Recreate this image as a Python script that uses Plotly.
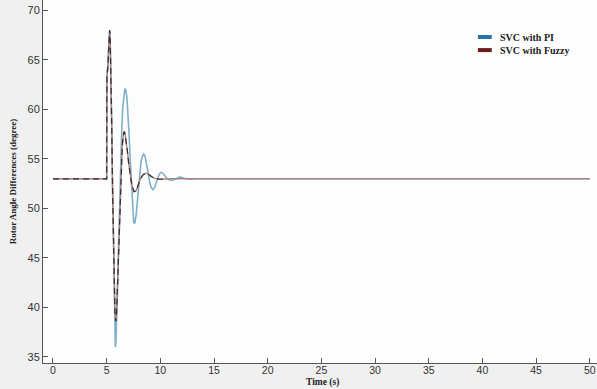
import plotly.graph_objects as go

# Time samples (s) and rotor angle differences (degree)
t_pi = [0, 5.0, 5.02, 5.12, 5.2, 5.28, 5.33, 5.4, 5.47, 5.55, 5.63, 5.7, 5.76, 5.81, 5.86, 5.93,
        6.0, 6.1, 6.2, 6.3, 6.4, 6.5, 6.6, 6.68, 6.74, 6.8, 6.9, 7.0, 7.1, 7.2, 7.3, 7.4, 7.52,
        7.62, 7.75, 7.9, 8.05, 8.2, 8.33, 8.45, 8.57, 8.7, 8.85, 9.0, 9.15, 9.32, 9.5, 9.7,
        9.9, 10.05, 10.2, 10.35, 10.55, 10.8, 11.1, 11.4, 11.8, 12.2, 12.8, 13.5, 50]
pi_vals = [53, 53, 63.2, 64.5, 66.5, 68, 67, 63.5, 58.5, 52, 45.5, 40.5, 37.5, 36.0, 36.4, 38.5,
           41.5, 46, 50.5, 54.5, 57.8, 60.2, 61.6, 62.0, 62.1, 61.9, 61, 59.4, 57.2, 54.8, 52.4, 50.3, 48.6,
           48.5, 49.4, 51.2, 53.2, 54.7, 55.3, 55.5, 55.3, 54.7, 53.7, 52.7, 52.1, 51.9, 52.2, 52.9,
           53.45, 53.65, 53.6, 53.4, 53.1, 52.9, 52.85, 52.95, 53.2, 53.05, 52.95, 53.0, 53.0]

t_fz = [0, 5.0, 5.02, 5.12, 5.2, 5.28, 5.33, 5.4, 5.47, 5.55, 5.63, 5.7, 5.77, 5.84, 5.9, 5.97,
        6.05, 6.15, 6.25, 6.35, 6.45, 6.55, 6.62, 6.7, 6.8, 6.92, 7.05, 7.2, 7.35, 7.55, 7.75,
        7.95, 8.15, 8.35, 8.55, 8.7, 8.9, 9.2, 9.6, 10.0, 10.5, 11.0, 12.0, 50]
fz_vals = [53, 53, 63.2, 64.5, 66.5, 68, 67, 63.5, 58.5, 52, 46, 42, 39.5, 38.6, 39.0, 40.8,
           43.5, 47.5, 51.3, 54.3, 56.3, 57.4, 57.76, 57.6, 57.0, 55.9, 54.6, 53.3, 52.3, 51.7, 51.8,
           52.4, 53.0, 53.35, 53.52, 53.55, 53.45, 53.2, 53.0, 52.95, 53.0, 53.0, 53.0, 53.0]

series_names = ["SVC with PI", "SVC with Fuzzy"]
legend_colors = ["#2a73a8", "#6e1c1c"]
x_ticks = [0, 5, 10, 15, 20, 25, 30, 35, 40, 45, 50]
y_ticks = [35, 40, 45, 50, 55, 60, 65, 70]

fig = go.Figure()
fig.add_trace(go.Scatter(x=t_pi, y=pi_vals, mode="lines", name=series_names[0], showlegend=False,
                         line=dict(color="#7fb0c8", width=1.6)))
fig.add_trace(go.Scatter(x=t_fz, y=fz_vals, mode="lines", name=series_names[1], showlegend=False,
                         line=dict(color="#a88580", width=1.4)))
fig.add_trace(go.Scatter(x=t_fz[:-3], y=fz_vals[:-3], mode="lines", showlegend=False, hoverinfo="skip",
                         line=dict(color="#3a2c2c", width=1.2, dash="6px,4px")))

# manual legend (compact, like the reference)
leg_y = [0.898, 0.862]
for name, col, yy in zip(series_names, legend_colors, leg_y):
    fig.add_shape(type="line", xref="paper", yref="paper", x0=0.785, x1=0.81, y0=yy, y1=yy,
                  line=dict(color=col, width=4))
    fig.add_annotation(x=0.822, y=yy, xref="paper", yref="paper", text="<b>%s</b>" % name,
                       showarrow=False, xanchor="left", yanchor="middle",
                       font=dict(family="Liberation Serif", size=10, color="#222"))

# x-axis title placed below the tick labels
fig.add_annotation(x=0.505, y=-0.0716, xref="paper", yref="paper", text="<b>Time (s)</b>",
                   showarrow=False, xanchor="center", yanchor="bottom",
                   borderpad=0, font=dict(family="Liberation Serif", size=9.5, color="#222"))

fig.update_layout(
    width=597, height=389,
    margin=dict(l=43, r=0, t=0, b=26),
    paper_bgcolor="#f0f0f0",
    plot_bgcolor="#fdfdfd",
    showlegend=False,
    xaxis=dict(range=[-0.93, 50.67], tickvals=x_ticks, ticks="inside", ticklen=5,
               tickcolor="#555", showline=True, linecolor="#555", linewidth=1,
               showgrid=False, zeroline=False, automargin=False, ticklabelstandoff=-3,
               tickfont=dict(family="Liberation Sans", size=10.5, color="#333")),
    yaxis=dict(range=[34.39, 71.06], tickvals=y_ticks, ticks="inside", ticklen=5,
               tickcolor="#555", showline=True, linecolor="#555", linewidth=1,
               showgrid=False, zeroline=False, automargin=False,
               tickfont=dict(family="Liberation Sans", size=11, color="#333"),
               title=dict(text="<b>Rotor Angle Differences (degree)</b>", standoff=9,
                          font=dict(family="Liberation Serif", size=9, color="#222"))),
)

fig.write_html("out.html", config={"displayModeBar": False},
               post_script="document.body.style.margin='0';document.body.style.overflow='hidden';")
